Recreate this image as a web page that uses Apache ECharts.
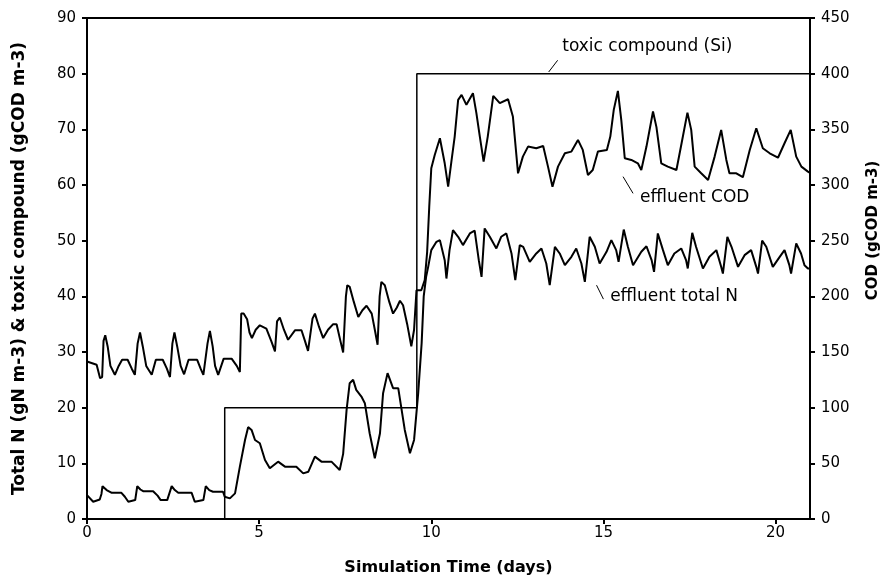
<!DOCTYPE html>
<html>
<head>
<meta charset="utf-8">
<script src="https://cdn.jsdelivr.net/npm/echarts@6/dist/echarts.min.js"></script>
<style>html,body{margin:0;padding:0;background:#fff}#c{width:884px;height:580px}</style>
</head>
<body>
<div id="c"></div>
<script>
// ---- data ----
var xTicks = [0, 5, 10, 15, 20];
var toxicT = [0, 4, 4, 9.58, 9.58, 21];
var toxicV = [0, 0, 20, 20, 80, 80];

var codT = [0,0.28,0.38,0.44,0.48,0.53,0.6,0.68,0.81,0.92,1.02,1.18,1.3,1.39,1.47,1.54,1.62,1.72,1.88,2.0,2.2,2.32,2.41,2.48,2.54,2.62,2.72,2.82,2.95,3.2,3.3,3.38,3.5,3.57,3.65,3.72,3.81,3.97,4.2,4.35,4.44,4.48,4.55,4.65,4.72,4.79,4.9,5.02,5.21,5.35,5.46,5.52,5.6,5.72,5.84,6.04,6.23,6.33,6.42,6.55,6.62,6.74,6.86,7.0,7.15,7.25,7.36,7.44,7.52,7.56,7.63,7.75,7.88,8.0,8.12,8.27,8.36,8.44,8.5,8.55,8.65,8.78,8.89,9.0,9.09,9.18,9.3,9.42,9.5,9.57,9.71,9.81,9.88,9.94,10.0,10.1,10.25,10.3,10.39,10.49,10.58,10.68,10.78,10.88,11.02,11.21,11.31,11.41,11.52,11.64,11.8,11.99,12.23,12.37,12.52,12.66,12.81,13.05,13.25,13.39,13.52,13.68,13.88,14.07,14.26,14.4,14.55,14.69,14.84,15.1,15.2,15.3,15.42,15.52,15.62,15.81,16.0,16.1,16.25,16.44,16.54,16.68,16.87,17.12,17.27,17.44,17.55,17.65,17.84,18.04,18.23,18.42,18.57,18.66,18.86,19.05,19.25,19.44,19.63,19.83,20.07,20.26,20.44,20.6,20.75,20.94,21.0];
var codV = [141.5,138.5,126.5,127.5,160,165,155,137.5,129.5,137.5,143,143,135,129.5,157.5,167.5,155,137.5,129.5,143,143,135,127.5,157.5,167.5,155,137.5,130,143,143,135,129.5,157.5,169,155,137.5,129.5,144,144,137.5,132,184.5,184.5,179.5,167.5,162.5,170,174,171,160,150.5,177.5,181,170,161,169.5,169.5,160,151,180,184.5,172.5,162.5,170,175,175,160,149.5,200,210,208.5,195,181.5,187.5,191.5,184.5,170,156.5,200,213,210,195,184.5,190,196,192,175,155,170,205.5,205.5,214.5,240,280,315,327,342,343.5,319.5,298.5,320,343.5,376.5,381,372,382.5,364.5,343.5,321,343.5,380,373.5,377,361.5,310.5,325.5,334.5,333,335,316.5,298.5,316.5,328.5,330,340.5,331.5,309,313.5,330,331.5,343.5,367.5,384.5,358,324,322.5,319.5,313.5,334.5,366,352,319.5,316.5,313.5,337.5,365,349.5,316.5,310.5,304.5,325.5,349.5,322.5,310.5,310.5,307,331.5,351,333,328.5,324.5,337.5,349.5,325.5,316.5,312,311];

var nT = [0,0.18,0.37,0.42,0.45,0.57,0.72,1.0,1.1,1.2,1.4,1.46,1.55,1.63,1.92,2.05,2.14,2.33,2.46,2.55,2.65,3.04,3.13,3.38,3.45,3.55,3.66,3.95,4.0,4.15,4.3,4.44,4.59,4.68,4.78,4.88,5.02,5.17,5.31,5.55,5.75,6.08,6.28,6.43,6.62,6.81,7.1,7.34,7.44,7.54,7.63,7.73,7.82,7.97,8.07,8.21,8.36,8.51,8.6,8.73,8.89,9.04,9.23,9.38,9.5,9.62,9.72,9.78,9.85,9.91,10.0,10.15,10.25,10.39,10.44,10.53,10.63,10.78,10.92,11.12,11.26,11.38,11.46,11.55,11.7,11.89,12.03,12.18,12.33,12.44,12.57,12.67,12.86,13.05,13.2,13.34,13.44,13.59,13.73,13.88,14.07,14.21,14.36,14.46,14.6,14.75,14.89,15.09,15.23,15.37,15.44,15.59,15.71,15.86,16.1,16.25,16.4,16.47,16.58,16.73,16.87,17.06,17.26,17.4,17.45,17.58,17.69,17.89,18.08,18.28,18.42,18.47,18.6,18.72,18.91,19.1,19.29,19.44,19.49,19.61,19.73,19.92,20.12,20.26,20.4,20.45,20.6,20.74,20.84,20.94,21.0];
var nV = [4.3,3.1,3.5,4.5,5.9,5.2,4.7,4.7,4.0,3.1,3.4,5.9,5.3,5.0,5.0,4.2,3.4,3.4,5.9,5.2,4.7,4.7,3.1,3.4,5.9,5.2,4.9,4.9,4.0,3.7,4.6,9.4,14.2,16.5,16.0,14.2,13.6,10.6,9.1,10.3,9.4,9.4,8.2,8.5,11.2,10.3,10.3,8.8,11.7,19.6,24.4,25.0,23.2,22.0,20.8,15.4,10.9,15.4,22.6,26.2,23.5,23.5,16.0,11.8,14.2,22.6,31.6,40,43.5,45.3,48.3,49.8,50.1,46.5,43.2,48.3,51.9,50.7,49.2,51.3,51.8,46.5,43.5,52.2,50.7,48.6,50.7,51.3,47.7,42.9,49.2,48.9,46.2,47.7,48.6,45.9,42.0,48.9,47.7,45.6,47.1,48.6,45.9,42.6,50.7,48.9,45.9,48.0,50.1,48.3,46.2,52.0,48.9,45.6,48.0,49.0,46.5,44.4,51.3,48.3,45.6,47.7,48.6,46.5,45.0,51.4,48.9,45.0,47.1,48.3,45.3,44.1,50.7,48.9,45.3,47.4,48.3,45.3,44.1,50.0,48.9,45.3,47.1,48.3,45.6,44.1,49.5,47.7,45.6,45.0,45.0];

// annotations (data coordinates on left axis)
var annText = ['toxic compound (Si)', 'effluent COD', 'effluent total N'];
var annX = [13.79, 16.05, 15.18];
var annY = [84.8, 57.7, 39.9];
var leadX1 = [13.41, 15.57, 14.8];
var leadY1 = [80.3, 61.5, 42.0];
var leadX2 = [13.67, 15.86, 15.0];
var leadY2 = [82.4, 58.5, 39.5];

function zip(a, b) { return a.map(function (x, i) { return [x, b[i]]; }); }

var FONT = '"DejaVu Sans", Verdana, sans-serif';
var chart = echarts.init(document.getElementById('c'), null, { renderer: 'canvas' });
var axisCommon = {
  axisLine: { show: true, lineStyle: { color: '#000', width: 2 } },
  axisTick: { show: true, inside: false, length: 5, lineStyle: { color: '#000', width: 2 } },
  splitLine: { show: false }
};
chart.setOption({
  animation: false,
  backgroundColor: '#fff',
  grid: { left: 87, right: 74, top: 18, bottom: 61, containLabel: false, outerBoundsMode: 'none',
    show: true, borderColor: '#000', borderWidth: 2, backgroundColor: 'transparent' },
  xAxis: Object.assign({}, axisCommon, {
    type: 'value', min: 0, max: 21, interval: 5,
    name: 'Simulation Time (days)', nameLocation: 'middle', nameGap: 41,
    nameTextStyle: { color: '#000', fontFamily: FONT, fontWeight: 'bold', fontSize: 16 },
    axisTick: { show: true, inside: false, length: 5, customValues: xTicks, lineStyle: { color: '#000', width: 2 } },
    axisLabel: { color: '#000', fontFamily: FONT, fontSize: 15, margin: 7, customValues: xTicks,
      formatter: function (v) { return xTicks.indexOf(v) >= 0 ? String(v) : ''; } }
  }),
  yAxis: [
    Object.assign({}, axisCommon, {
      type: 'value', min: 0, max: 90, interval: 10, position: 'left',
      name: 'Total N (gN m-3) & toxic compound (gCOD m-3)', nameLocation: 'middle', nameGap: 59,
      nameTextStyle: { color: '#000', fontFamily: FONT, fontWeight: 'bold', fontSize: 17 },
      axisLabel: { color: '#000', fontFamily: FONT, fontSize: 15, margin: 11 }
    }),
    Object.assign({}, axisCommon, {
      type: 'value', min: 0, max: 450, interval: 50, position: 'right',
      name: 'COD (gCOD m-3)', nameLocation: 'middle', nameGap: 56,
      nameTextStyle: { color: '#000', fontFamily: FONT, fontWeight: 'bold', fontSize: 15, padding: [0, 0, 0, 76] },
      axisLabel: { color: '#000', fontFamily: FONT, fontSize: 15, margin: 11 }
    })
  ],
  series: [
    {
      name: 'toxic compound (Si)', type: 'line', yAxisIndex: 0, data: zip(toxicT, toxicV),
      symbol: 'none', lineStyle: { color: '#000', width: 1.5 }, z: 2,
      markLine: {
        silent: true, symbol: ['none', 'none'], label: { show: false },
        lineStyle: { color: '#000', width: 1, type: 'solid' },
        data: annText.map(function (t, i) { return [{ coord: [leadX1[i], leadY1[i]] }, { coord: [leadX2[i], leadY2[i]] }]; })
      },
      markPoint: {
        silent: true, symbol: 'circle', symbolSize: 1, itemStyle: { color: 'rgba(0,0,0,0)' },
        label: { show: true, position: 'right', distance: 0, color: '#000', fontFamily: FONT, fontSize: 17 },
        data: annText.map(function (t, i) { return { coord: [annX[i], annY[i]], value: t, label: { formatter: t } }; })
      }
    },
    {
      name: 'effluent COD', type: 'line', yAxisIndex: 1, data: zip(codT, codV),
      symbol: 'none', lineStyle: { color: '#000', width: 2 }, z: 3
    },
    {
      name: 'effluent total N', type: 'line', yAxisIndex: 0, data: zip(nT, nV),
      symbol: 'none', lineStyle: { color: '#000', width: 2 }, z: 3
    }
  ]
});
</script>
</body>
</html>
